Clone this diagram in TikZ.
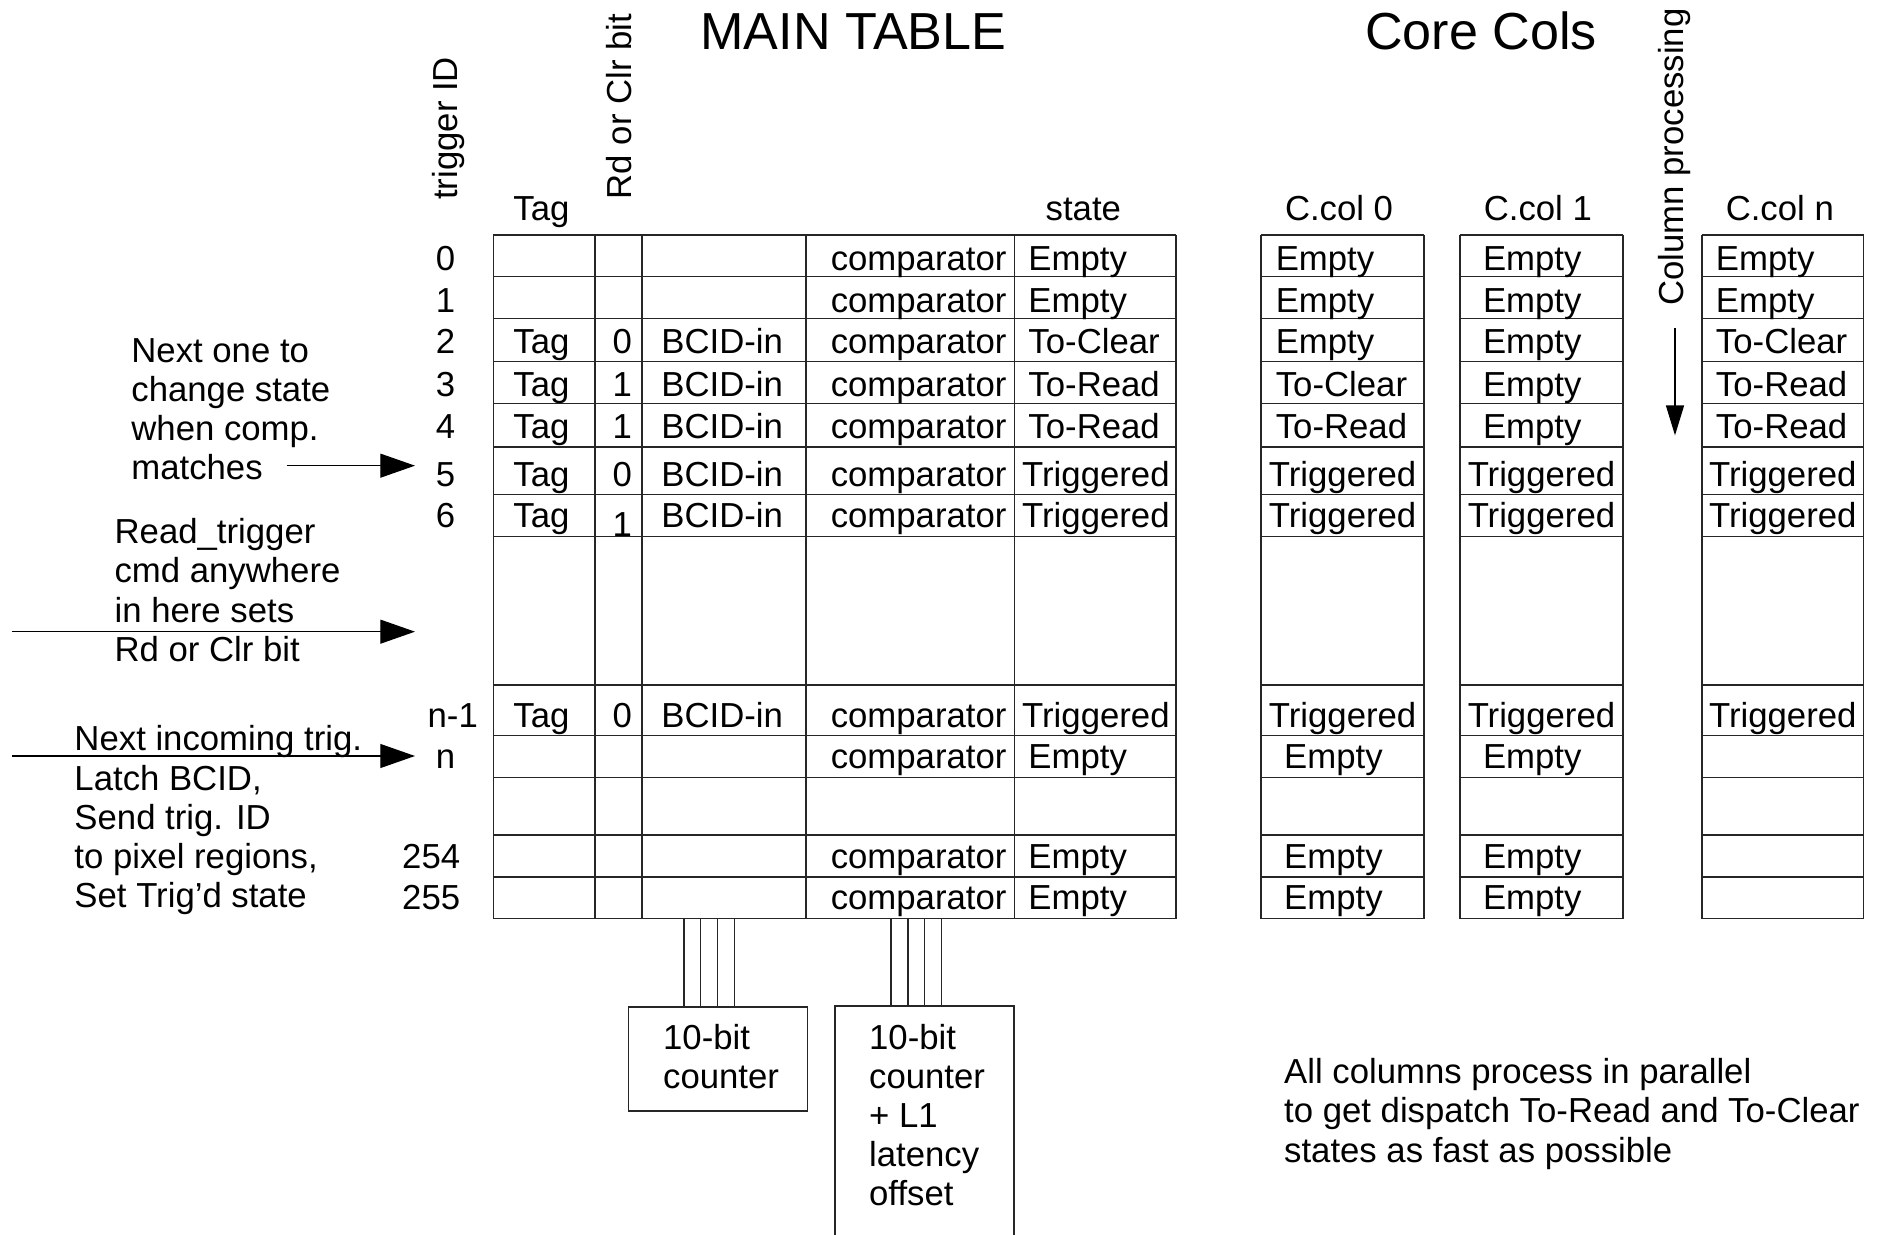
\documentclass[tikz,border=0pt]{standalone}
\usepackage{fontspec}
\setmainfont{Liberation Sans}
\usetikzlibrary{arrows.meta}
\begin{document}
\begin{tikzpicture}[x=1pt,y=-1pt,
  txt/.style={font=\fontsize{29}{33}\selectfont, inner sep=0pt, anchor=base west},
  ctxt/.style={font=\fontsize{29}{33}\selectfont, inner sep=0pt, anchor=base},
  ttl/.style={font=\fontsize{43.5}{48}\selectfont, inner sep=0pt, anchor=base},
  vtxt/.style={font=\fontsize{29}{33}\selectfont, inner sep=0pt, anchor=base west, rotate=90},
  tline/.style={line width=1.3pt, black!85},
  arr/.style={line width=1.2pt, -{Triangle[length=29pt,width=20pt]}},
  arrsmall/.style={line width=1.2pt, -{Triangle[length=25pt,width=15pt]}},
  cbox/.style={draw, line width=1.3pt, black!85, inner sep=0pt, anchor=north west}
]
\useasboundingbox (0,0) rectangle (1568,1031);

% ---------- titles ----------
\node[ttl] (ttlmain) at (712.5,41.5) {MAIN TABLE};
\node[ttl] (ttlcore) at (1236.6,41.5) {Core Cols};

% ---------- rotated headers ----------
\node[vtxt] (hdrtrig) at (382.3,167) {trigger ID};
\node[vtxt] (hdrrd) at (527.2,166.5) {Rd or Clr bit};
\node[vtxt] (hdrcolp) at (1405.5,255.5) {Column processing};
\coordinate (cpA) at (1398.5,274);
\coordinate (cpB) at (1398.5,363.5);
\draw[arrsmall] (cpA) -- (cpB);

% ---------- column headers ----------
\node[ctxt] (hdrtag) at (452,184.5) {Tag};
\node[ctxt] (hdrstate) at (904.5,184.5) {state};
\node[ctxt] (hdrc0) at (1118,184.5) {C.col 0};
\node[ctxt] (hdrc1) at (1284,184.5) {C.col 1};
\node[ctxt] (hdrcn) at (1486,184.5) {C.col n};

% ---------- main table grid ----------
\foreach \x in {412,497,536,673,847,982}
  \draw[tline] (\x,196) -- (\x,767);
\foreach \y in {196,231,266,302,337,373,413,448,572,614,649,697,732,767}
  \draw[tline] (412,\y) -- (982,\y);

% ---------- core column grids ----------
\foreach \l/\r in {1053/1189,1219/1355,1421/1556}{
  \draw[tline] (\l,196) -- (\l,767);
  \draw[tline] (\r,196) -- (\r,767);
  \foreach \y in {196,231,266,302,337,373,413,448,572,614,649,697,732,767}
    \draw[tline] (\l,\y) -- (\r,\y);
}

% ---------- row ids ----------
\foreach \n/\x/\y/\s in {0/372/225.5/0,1/372/260.5/1,2/372/295.5/2,3/372/331/3,4/372/366/4,5/372/406/5,6/372/440.5/6,m/378/607/n-1,n/372/642/n,a/360/725/254,b/360/759.5/255}
  \node[ctxt] (id\n) at (\x,\y) {\s};

% ---------- main table contents ----------
\foreach \n/\y/\b in {2/295.5/0,3/331/1,4/366/1,5/406/0,m/607/0}{
  \node[ctxt] (tag\n) at (452,\y) {Tag};
  \node[ctxt] (bit\n) at (519.5,\y) {\b};
  \node[txt] (bcid\n) at (552,\y) {BCID-in};
}
\node[ctxt] (tag6) at (452,440.5) {Tag};
\node[ctxt] (bit6) at (519.5,448) {1};
\node[txt] (bcid6) at (552,440.5) {BCID-in};

\foreach \n/\y in {0/225.5,1/260.5,2/295.5,3/331,4/366,5/406,6/440.5,m/607,n/642,a/725,b/759.5}
  \node[ctxt] (cmp\n) at (767,\y) {comparator};

\foreach \n/\y/\s in {0/225.5/Empty,1/260.5/Empty,2/295.5/To-Clear,3/331/To-Read,4/366/To-Read,n/642/Empty,a/725/Empty,b/759.5/Empty}
  \node[txt] (st\n) at (858.5,\y) {\s};
\foreach \n/\y in {5/406,6/440.5,m/607}
  \node[ctxt] (st\n) at (915,\y) {Triggered};

% ---------- core col 0 ----------
\foreach \n/\y/\s in {0/225.5/Empty,1/260.5/Empty,2/295.5/Empty,3/331/To-Clear,4/366/To-Read}
  \node[txt] (cz\n) at (1065,\y) {\s};
\foreach \n/\y in {5/406,6/440.5,m/607}
  \node[ctxt] (cz\n) at (1121,\y) {Triggered};
\foreach \n/\y in {n/642,a/725,b/759.5}
  \node[txt] (cz\n) at (1072,\y) {Empty};

% ---------- core col 1 ----------
\foreach \n/\y in {0/225.5,1/260.5,2/295.5,3/331,4/366,n/642,a/725,b/759.5}
  \node[txt] (co\n) at (1238,\y) {Empty};
\foreach \n/\y in {5/406,6/440.5,m/607}
  \node[ctxt] (co\n) at (1287,\y) {Triggered};

% ---------- core col n ----------
\foreach \n/\y/\s in {0/225.5/Empty,1/260.5/Empty,2/295.5/To-Clear,3/331/To-Read,4/366/To-Read}
  \node[txt] (cn\n) at (1432.5,\y) {\s};
\foreach \n/\y in {5/406,6/440.5,m/607}
  \node[ctxt] (cn\n) at (1488.5,\y) {Triggered};

% ---------- left annotations ----------
\foreach \s [count=\i] in {Next one to,change state,when comp.,matches}
  \node[txt] (na\i) at (109.5,{302.5+32.5*(\i-1)}) {\s};
\foreach \s [count=\i] in {Read\_trigger,cmd anywhere,in here sets,Rd or Clr bit}
  \node[txt] (nb\i) at (95.5,{453.5+33*(\i-1)}) {\s};
\foreach \s [count=\i] in {Next incoming trig.,{Latch BCID,},Send trig. ID,{to pixel regions,},Set Trig’d state}
  \node[txt] (nc\i) at (62,{627+32.7*(\i-1)}) {\s};

\coordinate (aAs) at (239.4,388.8);
\coordinate (aAe) at (346.5,388.8);
\coordinate (aBs) at (10,527.4);
\coordinate (aBe) at (346.5,527.4);
\coordinate (aCs) at (10,631.2);
\coordinate (aCe) at (346.5,631.2);
\draw[arr] (aAs) -- (aAe);
\draw[arr] (aBs) -- (aBe);
\draw[arr] (aCs) -- (aCe);

% ---------- counters ----------
\node[cbox, minimum width=149.5pt, minimum height=87pt] (cnt1) at (524,840) {};
\node[inner sep=0pt, minimum width=149pt, minimum height=192pt, anchor=north west] (cnt2) at (697,840) {};
\draw[tline] (cnt2.south west) -- (cnt2.north west) -- (cnt2.north east) -- (cnt2.south east);

\foreach \x in {571,585,599,613}
  \draw[line width=1.1pt, black!85] (\x,767) -- (\x,840);
\foreach \x in {744,758,772,786}
  \draw[line width=1.1pt, black!85] (\x,767) -- (\x,840);

\foreach \s [count=\i] in {10-bit,counter}
  \node[txt] (ka\i) at (553.5,{876+32.8*(\i-1)}) {\s};
\foreach \s [count=\i] in {10-bit,counter,+ L1,latency,offset}
  \node[txt] (kb\i) at (725.5,{876+32.6*(\i-1)}) {\s};

% ---------- bottom note ----------
\foreach \s [count=\i] in {All columns process in parallel,to get dispatch To-Read and To-Clear,states as fast as possible}
  \node[txt] (bn\i) at (1072,{904.5+33*(\i-1)}) {\s};

\end{tikzpicture}
\end{document}
